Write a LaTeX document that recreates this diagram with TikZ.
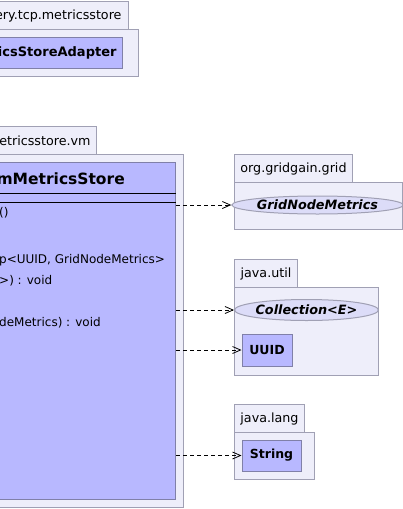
\documentclass[tikz,border=0pt]{standalone}
\usepackage{fontspec}
\setmainfont{DejaVu Sans}
\usepackage{tikz}
\usetikzlibrary{arrows.meta,positioning,shapes.geometric}
\definecolor{PaqFondo}{HTML}{EEEEFA}
\definecolor{PaqBorde}{HTML}{A0A0B4}
\definecolor{ClaseFondo}{HTML}{B8B8FF}
\definecolor{ClaseBorde}{HTML}{8080A8}
\definecolor{InterfazFondo}{HTML}{DCDCF8}

\begin{document}
\begin{tikzpicture}[
  x=1pt,y=-1pt,
  font=\fontsize{12}{14}\selectfont,
  paq/.style={draw=PaqBorde,fill=PaqFondo,line width=1pt,inner sep=0pt,anchor=north west},
  pestana/.style={paq,minimum height=28pt,font=\fontsize{12.7}{15}\selectfont},
  clase/.style={draw=ClaseBorde,fill=ClaseFondo,line width=1pt,inner sep=0pt,font=\fontsize{12.5}{14}\selectfont\bfseries},
  interfaz/.style={ellipse,draw=PaqBorde,fill=InterfazFondo,line width=1pt,inner sep=0pt,
    font=\fontsize{12.8}{14}\selectfont\bfseries\itshape},
  miembro/.style={anchor=west,inner sep=0pt},
  dep/.style={line width=0.8pt,dash pattern=on 4pt off 3pt,-{Straight Barb[length=8pt,width=7pt]}}
]
  \useasboundingbox (0,0) rectangle (403,509);
  \clip (0,0) rectangle (403,509);

  % paquete tcp.metricsstore
  \node[pestana,anchor=north east,text width=150pt,align=right,inner xsep=7pt] (tcptab) at (129,1)
    {ery.tcp.metricsstore};
  \node[paq,anchor=north east,minimum width=170pt,minimum height=47pt] (tcppaq) at (139,29) {};
  \node[clase,anchor=north east,text width=160pt,align=right,inner xsep=6pt,minimum height=31pt,
        font=\fontsize{13}{15}\selectfont\bfseries] (adapter) at (123,37) {icsStoreAdapter};

  % paquete metricsstore.vm
  \node[pestana,anchor=north east,text width=150pt,align=right,inner xsep=6pt] (vmtab) at (97,126)
    {metricsstore.vm};
  \node[paq,anchor=north east,minimum width=220pt,minimum height=353pt] (vmpaq) at (184,154) {};
  \node[clase,anchor=north east,minimum width=200pt,minimum height=337pt] (vmclase) at (176,162) {};
  \node[anchor=east,inner sep=0pt,font=\fontsize{15.5}{17}\selectfont\bfseries] (vmnombre) at (125,179)
    {mMetricsStore};
  \draw[line width=1pt] ([yshift=-31pt]vmclase.north west) -- ([yshift=-31pt]vmclase.north east);
  \draw[line width=1pt] ([yshift=-40pt]vmclase.north west) -- ([yshift=-40pt]vmclase.north east);
  \node[miembro] (m1) at (-1,213) {()};
  \node[miembro] (m2) at (-1,260) {p<UUID, GridNodeMetrics>};
  \node[miembro] (m3) at (-1,281) {>) : void};
  \node[miembro] (m4) at (-1,323) {deMetrics) : void};

  % org.gridgain.grid
  \node[pestana,minimum width=118pt] (gridtab) at (234,154) {org.gridgain.grid};
  \node[paq,minimum width=168pt,minimum height=47pt] (gridpaq) at (234,182) {};
  \node[interfaz,minimum width=153pt,minimum height=18pt] (gnm) at (317.5,205) {GridNodeMetrics};

  % java.util
  \node[pestana,minimum width=63pt] (utiltab) at (234,259) {java.util};
  \node[paq,minimum width=144pt,minimum height=88pt] (utilpaq) at (234,287) {};
  \node[interfaz,minimum width=129pt,minimum height=21pt] (coleccion) at (306.5,310) {Collection<E>};
  \node[clase,minimum width=50pt,minimum height=32pt] (uuid) at (267,350) {UUID};

  % java.lang
  \node[pestana,minimum width=70pt] (langtab) at (234,404) {java.lang};
  \node[paq,minimum width=80pt,minimum height=47pt] (langpaq) at (234,432) {};
  \node[clase,minimum width=59pt,minimum height=31pt] (cadena) at (271.5,455.5) {String};

  \draw[dep] (vmclase.east |- gnm.west) -- (gnm.west);
  \draw[dep] (vmclase.east |- coleccion.west) -- (coleccion.west);
  \draw[dep] (vmclase.east |- uuid.west) -- (uuid.west);
  \draw[dep] (vmclase.east |- cadena.west) -- (cadena.west);
\end{tikzpicture}
\end{document}
